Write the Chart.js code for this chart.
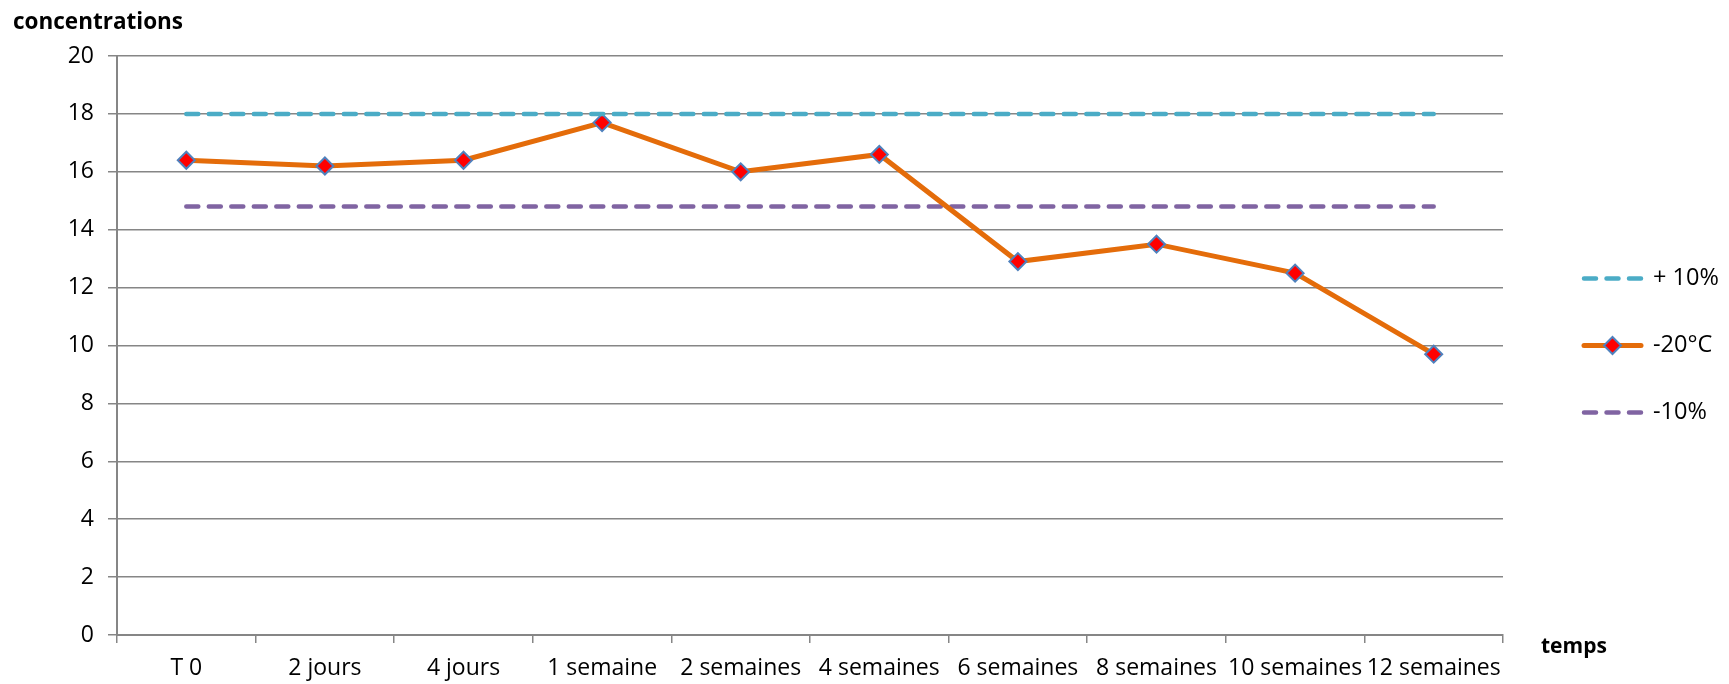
<!DOCTYPE html>
<html>
<head>
<meta charset="utf-8">
<script src="https://cdn.jsdelivr.net/npm/chart.js@4"></script>
<style>
  html, body { margin: 0; padding: 0; background: #fff; }
  #wrap { width: 1729px; height: 684px; }
</style>
</head>
<body>
<div id="wrap"><canvas id="chart" width="1729" height="684"></canvas></div>
<script>
const labels = ["T 0", "2 jours", "4 jours", "1 semaine", "2 semaines", "4 semaines",
                "6 semaines", "8 semaines", "10 semaines", "12 semaines"];
const plus10 = [18, 18, 18, 18, 18, 18, 18, 18, 18, 18];
const moins20 = [16.4, 16.2, 16.4, 17.7, 16.0, 16.6, 12.9, 13.5, 12.5, 9.7];
const minus10 = [14.8, 14.8, 14.8, 14.8, 14.8, 14.8, 14.8, 14.8, 14.8, 14.8];
const seriesNames = ["+ 10%", "-20°C", "-10%"];
const yTicks = [0, 2, 4, 6, 8, 10, 12, 14, 16, 18, 20];

const FONT = "'Open Sans', Lato, sans-serif";
const gridColor = "#868686";

// legend + axis titles drawn by hand (Excel-like layout)
const decorPlugin = {
    id: "decor",
    afterDraw(chart) {
        const ctx = chart.ctx;
        const area = chart.chartArea;
        ctx.save();
        ctx.fillStyle = "#000";
        ctx.font = "bold 22.5px " + FONT;
        ctx.textBaseline = "middle";
        ctx.textAlign = "left";
        ctx.fillText("concentrations", 13, 23);
        ctx.font = "bold 21px " + FONT;
        ctx.fillText("temps", area.right + 38, area.bottom + 12);

        const midY = (area.top + area.bottom) / 2;
        const x0 = area.right + 79, x1 = area.right + 140;
        chart.data.datasets.forEach((ds, i) => {
            const y = midY + (i - 1) * 67;
            ctx.save();
            ctx.strokeStyle = ds.borderColor;
            ctx.lineWidth = ds.borderWidth;
            ctx.lineCap = "round";
            ctx.setLineDash(ds.borderDash || []);
            ctx.beginPath();
            ctx.moveTo(x0 + 2, y);
            ctx.lineTo(x1 - 2, y);
            ctx.stroke();
            ctx.restore();
            if (ds.pointRadius > 0) {
                const r = ds.pointRadius, cx = (x0 + x1) / 2;
                ctx.fillStyle = ds.pointBackgroundColor;
                ctx.strokeStyle = ds.pointBorderColor;
                ctx.lineWidth = ds.pointBorderWidth;
                ctx.setLineDash([]);
                ctx.beginPath();
                ctx.moveTo(cx, y - r); ctx.lineTo(cx + r, y); ctx.lineTo(cx, y + r); ctx.lineTo(cx - r, y);
                ctx.closePath(); ctx.fill(); ctx.stroke();
            }
            ctx.fillStyle = "#000";
            ctx.font = "23.5px " + FONT;
            ctx.textAlign = "left";
            ctx.textBaseline = "middle";
            ctx.fillText(ds.label, x1 + 10, y);
        });
        ctx.restore();
    }
};

new Chart(document.getElementById("chart"), {
    type: "line",
    data: {
        labels: labels,
        datasets: [
            {
                label: seriesNames[0],
                data: plus10,
                borderColor: "#4BACC6",
                borderWidth: 4.5,
                borderDash: [12, 10.5],
                borderCapStyle: "round",
                pointRadius: 0,
                tension: 0
            },
            {
                label: seriesNames[1],
                data: moins20,
                borderColor: "#E46C0A",
                borderWidth: 5,
                pointStyle: "rectRot",
                pointRadius: 8.5,
                pointBackgroundColor: "#FF0000",
                pointBorderColor: "#4F81BD",
                pointBorderWidth: 2,
                tension: 0
            },
            {
                label: seriesNames[2],
                data: minus10,
                borderColor: "#8064A2",
                borderWidth: 4.5,
                borderDash: [12, 10.5],
                borderCapStyle: "round",
                pointRadius: 0,
                tension: 0
            }
        ]
    },
    options: {
        responsive: false,
        animation: false,
        devicePixelRatio: 1,
        layout: { padding: { left: 0, top: 56, right: 226, bottom: 0 } },
        plugins: {
            legend: { display: false },
            tooltip: { enabled: false }
        },
        scales: {
            x: {
                offset: true,
                grid: {
                    offset: true,
                    drawOnChartArea: false,
                    drawTicks: true,
                    tickLength: 8,
                    color: gridColor,
                    lineWidth: 1.5
                },
                border: { color: gridColor, width: 2 },
                ticks: {
                    color: "#000",
                    font: { family: FONT, size: 23 },
                    padding: 12,
                    maxRotation: 0,
                    autoSkip: false
                },
                afterFit(scale) { scale.height = 49; }
            },
            y: {
                min: 0,
                max: 20,
                afterBuildTicks(scale) { scale.ticks = yTicks.map(v => ({ value: v })); },
                grid: {
                    color: gridColor,
                    lineWidth: 1.5,
                    tickLength: 9
                },
                border: { color: gridColor, width: 2 },
                ticks: {
                    color: "#000",
                    font: { family: FONT, size: 23 },
                    padding: 14
                },
                afterFit(scale) { scale.width = 117; }
            }
        }
    },
    plugins: [decorPlugin]
});
</script>
</body>
</html>
